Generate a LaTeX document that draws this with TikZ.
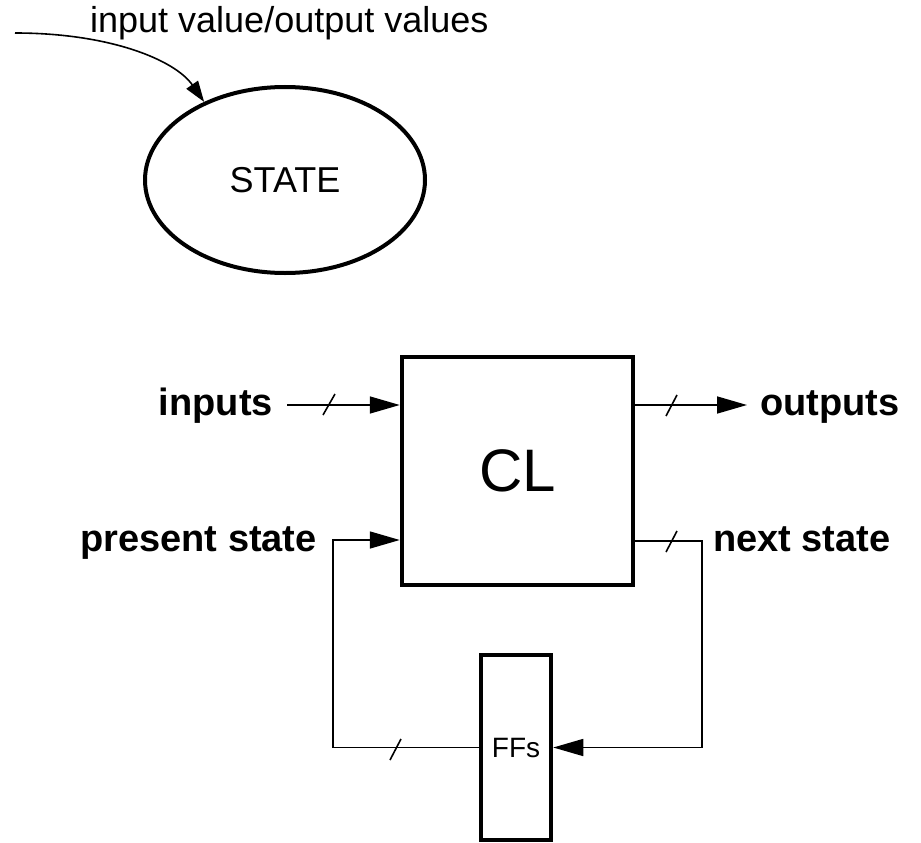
\documentclass[tikz,border=0pt]{standalone}
\usepackage{fontspec}
\setmainfont{Liberation Sans}
\usetikzlibrary{shapes.geometric,arrows.meta}
\begin{document}
\begin{tikzpicture}[x=1pt,y=-1pt,
  thinline/.style={line width=1.6pt},
  boxline/.style={draw,line width=4.5pt},
  bigarrow/.style={-{Triangle[length=30pt,width=17pt]}},
  toparrow/.style={-{Triangle[length=21pt,width=14pt]}},
  slashmark/.style={line width=1.6pt},
  sidelabel/.style={inner sep=0pt,font=\bfseries\fontsize{38}{42}\selectfont}
]
\useasboundingbox (0,0) rectangle (921,843);

% state diagram part
\node[ellipse,draw,line width=4pt,minimum width=280,minimum height=186,
      font=\fontsize{36}{40}\selectfont] (state) at (285,180) {STATE};
\node[inner sep=0pt,anchor=base west,font=\fontsize{36}{40}\selectfont] (tlabel) at (90,33) {input value/output values};
\coordinate (tstart) at (15,33);
\draw[thinline,toparrow] (tstart) .. controls (110,33) and (175,60) .. (state.136);

% circuit part
\node[boxline,minimum width=231,minimum height=228,inner sep=0pt,
      font=\fontsize{60}{66}\selectfont] (cl) at (517.5,471) {CL};
\node[boxline,minimum width=70,minimum height=185,inner sep=0pt,
      font=\fontsize{28}{32}\selectfont] (ffs) at (516,747.5) {FFs};

\node[sidelabel,anchor=base east] (inputs) at (273,415) {inputs};
\node[sidelabel,anchor=base west] (outputs) at (760,415) {outputs};
\node[sidelabel,anchor=base east] (pstate) at (317,551) {present state};
\node[sidelabel,anchor=base west] (nstate) at (713,551) {next state};

\coordinate (inA) at (287,405);
\coordinate (outB) at (747,405);
\coordinate (psC) at (333,540);
\coordinate (nsC) at (702,541);

\draw[thinline,bigarrow] (inA) -- (inA -| cl.west);
\draw[thinline,bigarrow] (cl.east |- outB) -- (outB);
\draw[thinline,bigarrow] (ffs.west) -| (psC) -- (psC -| cl.west);
\draw[thinline,bigarrow] (cl.east |- nsC) -- (nsC) |- (ffs.east);

% bus slashes
\draw[slashmark] (323,415) -- (335,394);
\draw[slashmark] (666,416) -- (677,395);
\draw[slashmark] (666,552) -- (677,531);
\draw[slashmark] (390,760) -- (401,739);
\end{tikzpicture}
\end{document}
